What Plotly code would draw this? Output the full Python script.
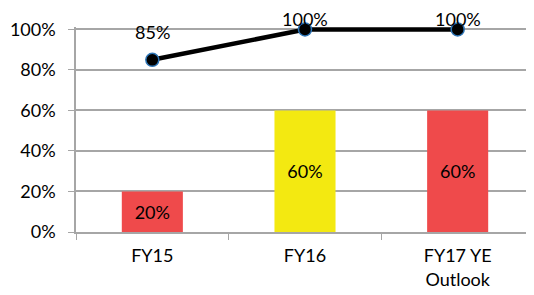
import plotly.graph_objects as go

categories = ["FY15", "FY16", "FY17 YE<br>Outlook"]
bar_values = [0.20, 0.60, 0.60]
bar_colors = ["#EF4A4B", "#F3E911", "#EF4A4B"]
line_values = [0.85, 1.00, 1.00]
y_ticks = [0, 0.2, 0.4, 0.6, 0.8, 1.0]
y_tick_labels = ["0%", "20%", "40%", "60%", "80%", "100%"]

# label offsets above the line points (styling, px)
label_shift = [28, 10, 10]

FONT = "Lato, 'Open Sans', sans-serif"
FS = 18

fig = go.Figure()
fig.add_trace(go.Bar(
    x=categories, y=bar_values,
    marker=dict(color=bar_colors, line=dict(width=0)),
    width=0.4,
    text=[f"{v:.0%}" for v in bar_values],
    textposition="inside", insidetextanchor="middle",
    textfont=dict(size=FS, color="black", family=FONT),
    hoverinfo="skip",
))
fig.add_trace(go.Scatter(
    x=categories, y=line_values, mode="lines+markers",
    line=dict(color="black", width=4.5),
    marker=dict(size=13, color="black", line=dict(color="#2E75B6", width=1.5)),
    cliponaxis=False,
))
for c, v, s in zip(categories, line_values, label_shift):
    fig.add_annotation(x=c, y=v, text=f"{v:.0%}", showarrow=False, yshift=s,
                       font=dict(size=FS, color="black", family=FONT))

fig.update_layout(
    width=526, height=287,
    margin=dict(l=68, r=0, t=19, b=63),
    paper_bgcolor="white", plot_bgcolor="white",
    showlegend=False,
    font=dict(family=FONT, size=FS, color="black"),
    bargap=0.6,
)
fig.update_yaxes(
    range=[0, 1.012], tickvals=y_ticks, ticktext=y_tick_labels,
    showgrid=True, gridcolor="#A6A6A6", gridwidth=1.5,
    showline=True, linecolor="#A6A6A6", linewidth=1.5,
    ticks="outside", ticklen=6, tickcolor="#A6A6A6",
    ticklabelstandoff=9,
    zeroline=False, tickfont=dict(size=FS), fixedrange=True,
)
fig.update_xaxes(
    showline=True, linecolor="#A6A6A6", linewidth=1.5,
    ticks="outside", tickson="boundaries", ticklen=6, tickcolor="#A6A6A6",
    ticklabelstandoff=7,
    tickfont=dict(size=FS), fixedrange=True,
)
fig.write_html("out.html")
